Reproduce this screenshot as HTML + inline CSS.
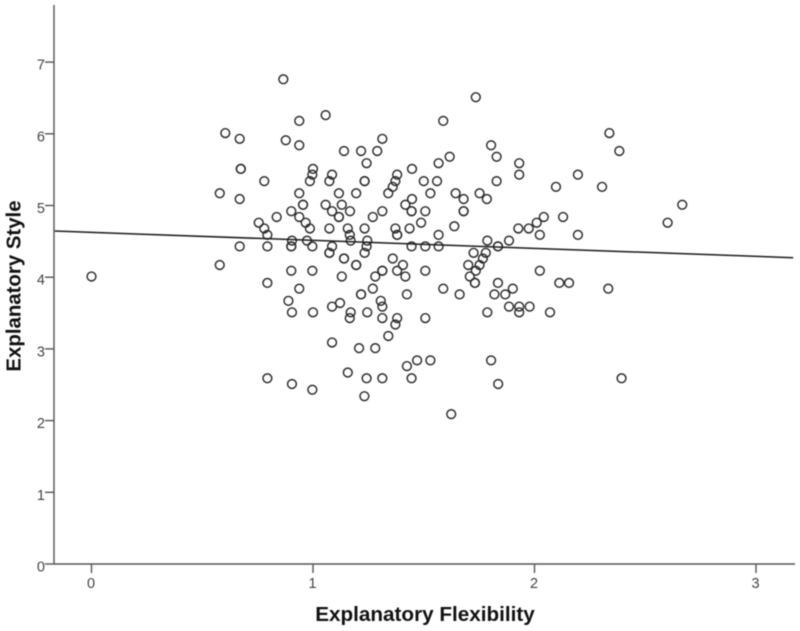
<!DOCTYPE html>
<html lang="en">
<head>
<meta charset="utf-8">
<title>Explanatory Style vs Explanatory Flexibility</title>
<style>
html,body{margin:0;padding:0;background:#fff;}
body{width:800px;height:631px;overflow:hidden;}
svg{display:block;font-family:"Liberation Sans",Arial,sans-serif;filter:blur(0.4px);}
</style>
</head>
<body>
<svg id="chart" width="800" height="631" viewBox="0 0 800 631" xmlns="http://www.w3.org/2000/svg">
  <rect x="0" y="0" width="800" height="631" fill="#ffffff"/>
  <g id="ticks"></g>
  <line x1="54" y1="5" x2="54" y2="564" stroke="#555" stroke-width="1.4"/>
  <line x1="54" y1="564" x2="795" y2="564" stroke="#555" stroke-width="1.4"/>
  <g id="points"></g>
  <line id="fit" stroke="#1c1c1c" stroke-width="1.5"/>
  <text x="425" y="621" text-anchor="middle" font-size="20.7" font-weight="bold" fill="#111">Explanatory Flexibility</text>
  <text x="0" y="0" transform="translate(20.5,286) rotate(-90)" text-anchor="middle" font-size="20.4" font-weight="bold" fill="#111">Explanatory Style</text>
</svg>
<script>
const xTickLabels = [0, 1, 2, 3];
const yTickLabels = [0, 1, 2, 3, 4, 5, 6, 7];
const fitX = [-0.166, 3.168];
const fitY = [4.644, 4.272];
const flexibility = [
  0.866,0.938,0.604,0.669,0.877,0.938,0.674,0.674,1.0,0.997,
  0.986,0.78,0.579,0.938,0.669,0.955,0.955,0.902,0.938,0.836,
  0.967,0.755,0.986,0.78,0.794,0.905,0.973,0.669,0.794,0.902,
  0.902,0.997,0.579,0.902,0.997,0,0.794,0.938,0.889,0.905,
  1.0,0.794,0.905,0.997,1.735,1.057,1.588,1.313,1.804,1.14,
  1.217,1.29,1.829,1.617,1.242,1.567,1.931,1.447,1.086,1.38,
  1.931,2.196,1.074,1.233,1.233,1.372,1.5,1.56,1.829,1.36,
  2.097,1.34,1.117,1.195,1.53,1.644,1.752,1.68,1.785,1.447,
  1.057,1.13,1.417,1.086,1.167,1.313,1.445,1.445,1.507,1.68,
  1.68,1.117,1.117,1.27,2.042,2.129,2.01,1.488,1.074,1.157,
  1.233,1.372,1.436,1.638,1.927,1.974,1.166,1.38,1.38,1.567,
  2.024,2.196,1.17,1.245,1.787,1.885,1.086,1.242,1.445,1.507,
  1.567,1.835,1.835,1.074,1.074,1.233,1.725,1.78,1.14,1.14,
  1.36,1.767,1.195,1.195,1.406,1.701,1.752,1.313,1.313,1.38,
  1.507,1.735,2.024,1.13,1.281,1.417,1.708,1.731,1.731,1.835,
  2.112,2.156,1.27,1.588,1.902,1.217,1.217,1.424,1.662,1.819,
  1.868,1.306,1.122,1.086,1.313,1.885,1.931,1.978,1.17,1.245,
  1.787,1.931,2.07,1.166,1.313,1.38,1.507,1.372,1.34,1.086,
  1.208,1.281,1.47,1.53,1.804,1.424,1.157,1.242,1.313,1.445,
  1.836,1.232,1.624,2.338,2.383,2.305,2.667,2.601,2.333,2.393
];
const style = [
  6.76,6.18,6.01,5.93,5.91,5.84,5.51,5.51,5.51,5.43,
  5.34,5.34,5.17,5.17,5.09,5.01,5.01,4.92,4.84,4.84,
  4.76,4.76,4.68,4.68,4.59,4.51,4.51,4.43,4.43,4.43,
  4.43,4.43,4.17,4.09,4.09,4.01,3.92,3.84,3.67,3.51,
  3.51,2.59,2.51,2.43,6.51,6.26,6.18,5.93,5.84,5.76,
  5.76,5.76,5.68,5.68,5.59,5.59,5.59,5.51,5.43,5.43,
  5.43,5.43,5.34,5.34,5.34,5.34,5.34,5.34,5.34,5.26,
  5.26,5.17,5.17,5.17,5.17,5.17,5.17,5.09,5.09,5.09,
  5.01,5.01,5.01,4.92,4.92,4.92,4.92,4.92,4.92,4.92,
  4.92,4.84,4.84,4.84,4.84,4.84,4.76,4.76,4.68,4.68,
  4.68,4.68,4.68,4.71,4.68,4.68,4.59,4.59,4.59,4.59,
  4.59,4.59,4.51,4.51,4.51,4.51,4.43,4.43,4.43,4.43,
  4.43,4.43,4.43,4.34,4.34,4.34,4.34,4.34,4.26,4.26,
  4.26,4.26,4.17,4.17,4.17,4.17,4.17,4.09,4.09,4.09,
  4.09,4.09,4.09,4.01,4.01,4.01,4.01,3.92,3.92,3.92,
  3.92,3.92,3.84,3.84,3.84,3.76,3.76,3.76,3.76,3.76,
  3.76,3.67,3.64,3.59,3.59,3.59,3.59,3.59,3.51,3.51,
  3.51,3.51,3.51,3.43,3.43,3.43,3.43,3.34,3.18,3.09,
  3.01,3.01,2.84,2.84,2.84,2.76,2.67,2.59,2.59,2.59,
  2.51,2.34,2.09,6.01,5.76,5.26,5.01,4.76,3.84,2.59
];

const NS = 'http://www.w3.org/2000/svg';
function xScale(v) { return 91.5 + 221.5 * v; }
function yScale(v) { return 564 - 71.7 * v; }

const ticksGroup = document.getElementById('ticks');
xTickLabels.forEach(function (t) {
  const tick = document.createElementNS(NS, 'line');
  
  
  tick.setAttribute('x1', xScale(t));
  tick.setAttribute('x2', xScale(t));
  tick.setAttribute('y1', 564);
  tick.setAttribute('y2', 573);
  tick.setAttribute('stroke', '#555');
  tick.setAttribute('stroke-width', '1.4');
  ticksGroup.appendChild(tick);
  const label = document.createElementNS(NS, 'text');
  
  
  label.setAttribute('x', xScale(t) - 0.5);
  label.setAttribute('y', 588);
  label.setAttribute('text-anchor', 'middle');
  label.setAttribute('font-size', '14.5');
  label.setAttribute('fill', '#444');
  label.textContent = t;
  ticksGroup.appendChild(label);
});
yTickLabels.forEach(function (t) {
  const tick = document.createElementNS(NS, 'line');
  
  
  tick.setAttribute('x1', 45);
  tick.setAttribute('x2', 54);
  tick.setAttribute('y1', yScale(t));
  tick.setAttribute('y2', yScale(t));
  tick.setAttribute('stroke', '#555');
  tick.setAttribute('stroke-width', '1.4');
  ticksGroup.appendChild(tick);
  const label = document.createElementNS(NS, 'text');
  
  
  label.setAttribute('x', 45);
  label.setAttribute('y', yScale(t) + 7.5);
  label.setAttribute('text-anchor', 'end');
  label.setAttribute('font-size', '14.5');
  label.setAttribute('fill', '#444');
  label.textContent = t;
  ticksGroup.appendChild(label);
});

const pointsGroup = document.getElementById('points');
flexibility.forEach(function (v, i) {
  const c = document.createElementNS(NS, 'circle');
  
  
  c.setAttribute('cx', xScale(v));
  c.setAttribute('cy', yScale(style[i]));
  c.setAttribute('r', '4.4');
  c.setAttribute('fill', 'none');
  c.setAttribute('stroke', '#2a2a2a');
  c.setAttribute('stroke-width', '1.45');
  pointsGroup.appendChild(c);
});

const fit = document.getElementById('fit');
fit.setAttribute('x1', xScale(fitX[0]));
fit.setAttribute('y1', yScale(fitY[0]));
fit.setAttribute('x2', xScale(fitX[1]));
fit.setAttribute('y2', yScale(fitY[1]));
</script>
</body>
</html>
